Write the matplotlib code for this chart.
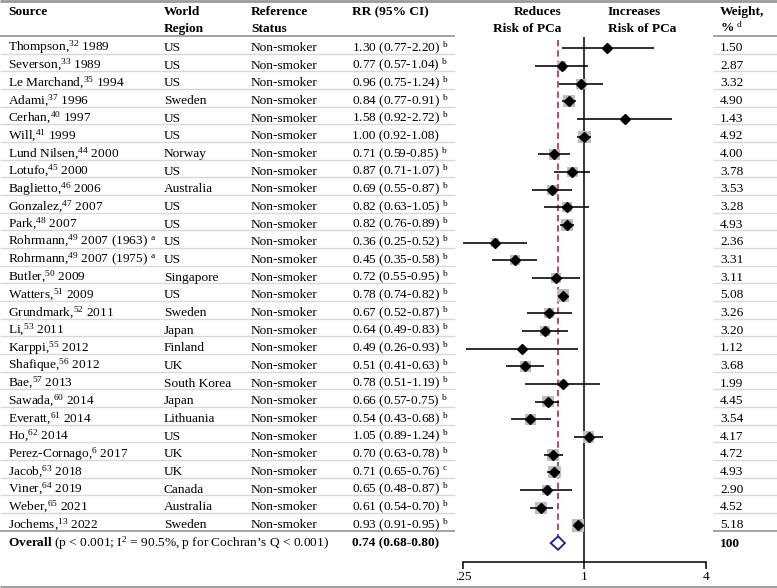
import numpy as np
import matplotlib
matplotlib.use("Agg")
import matplotlib.pyplot as plt

plt.rcParams['font.family'] = ['Liberation Serif', 'DejaVu Serif']
plt.rcParams['mathtext.fontset'] = 'custom'
plt.rcParams['mathtext.rm'] = 'Liberation Serif'
plt.rcParams['mathtext.it'] = 'Liberation Serif:italic'
plt.rcParams['mathtext.bf'] = 'Liberation Serif:bold'

# ---------------- data ----------------
sources = ["Thompson", "Severson", "Le Marchand", "Adami", "Cerhan", "Will", "Lund Nilsen",
           "Lotufo", "Baglietto", "Gonzalez", "Park", "Rohrmann", "Rohrmann", "Butler",
           "Watters", "Grundmark", "Li", "Karppi", "Shafique", "Bae", "Sawada", "Everatt",
           "Ho", "Perez-Cornago", "Jacob", "Viner", "Weber", "Jochems"]
refs = ["32", "33", "35", "37", "40", "41", "44", "45", "46", "47", "48", "49", "49", "50",
        "51", "52", "53", "55", "56", "57", "60", "61", "62", "6", "63", "64", "65", "13"]
years = ["1989", "1989", "1994", "1996", "1997", "1999", "2000", "2000", "2006", "2007",
         "2007", "2007 (1963)", "2007 (1975)", "2009", "2009", "2011", "2011", "2012",
         "2012", "2013", "2014", "2014", "2014", "2017", "2018", "2019", "2021", "2022"]
source_notes = [""] * 11 + ["a", "a"] + [""] * 15
regions = ["US", "US", "US", "Sweden", "US", "US", "Norway", "US", "Australia", "US", "US",
           "US", "US", "Singapore", "US", "Sweden", "Japan", "Finland", "UK", "South Korea",
           "Japan", "Lithuania", "US", "UK", "UK", "Canada", "Australia", "Sweden"]
ref_status = ["Non-smoker"] * 28
rr = [1.30, 0.77, 0.96, 0.84, 1.58, 1.00, 0.71, 0.87, 0.69, 0.82, 0.82, 0.36, 0.45, 0.72,
      0.78, 0.67, 0.64, 0.49, 0.51, 0.78, 0.66, 0.54, 1.05, 0.70, 0.71, 0.65, 0.61, 0.93]
ci_lo = [0.77, 0.57, 0.75, 0.77, 0.92, 0.92, 0.59, 0.71, 0.55, 0.63, 0.76, 0.25, 0.35, 0.55,
         0.74, 0.52, 0.49, 0.26, 0.41, 0.51, 0.57, 0.43, 0.89, 0.63, 0.65, 0.48, 0.54, 0.91]
ci_hi = [2.20, 1.04, 1.24, 0.91, 2.72, 1.08, 0.85, 1.07, 0.87, 1.05, 0.89, 0.52, 0.58, 0.95,
         0.82, 0.87, 0.83, 0.93, 0.63, 1.19, 0.75, 0.68, 1.24, 0.78, 0.76, 0.87, 0.70, 0.95]
rr_notes = ["b"] * 5 + [""] + ["b"] * 18 + ["c"] + ["b"] * 3
weights = [1.50, 2.87, 3.32, 4.90, 1.43, 4.92, 4.00, 3.78, 3.53, 3.28, 4.93, 2.36, 3.31, 3.11,
           5.08, 3.26, 3.20, 1.12, 3.68, 1.99, 4.45, 3.54, 4.17, 4.72, 4.93, 2.90, 4.52, 5.18]
overall_rr, overall_lo, overall_hi = 0.74, 0.68, 0.80
overall_stats = "(p < 0.001; I$^{\\mathrm{2}}$ = 90.5%, p for Cochran\u2019s Q < 0.001)"
xticks = [0.25, 1, 4]
xticklabels = [".25", "1", "4"]

# ---------------- layout ----------------
W, Hfig = 777, 588
fig = plt.figure(figsize=(W / 100, Hfig / 100), dpi=100)
bg = fig.add_axes([0, 0, 1, 1])
bg.set_xlim(0, W)
bg.set_ylim(Hfig, 0)
bg.axis('off')

ROW0, RH = 48.3, 17.67
n = len(sources)
FS = 9.6
TXT_OFF = 2.7


def yrow(i):
    return ROW0 + i * RH


X_SRC, X_REG, X_STAT, X_RR, X_W = 8, 164, 251, 352, 720
SEG = [(0, 455), (713, W)]

# lines
bg.hlines(1, 0, W, color='#9a9a9a', lw=2)
bg.hlines(586.5, 0, W, color='#9a9a9a', lw=2)
for a, b in SEG:
    bg.hlines(35.7, a, b, color='#8a8a8a', lw=1.1)
    for i in range(n - 1):
        bg.hlines(yrow(i) + 5.2, a, b, color='#d8d8d8', lw=1.0)
    bg.hlines(yrow(n - 1) + 5.2, a, b, color='#8a8a8a', lw=1.1)

# header
hb1, hb2 = 15, 32
bg.text(X_SRC, hb1, "Source", fontsize=FS, fontweight='bold', va='baseline')
bg.text(X_REG, hb1, "World", fontsize=FS, fontweight='bold', va='baseline')
bg.text(X_REG, hb2, "Region", fontsize=FS, fontweight='bold', va='baseline')
bg.text(X_STAT, hb1, "Reference", fontsize=FS, fontweight='bold', va='baseline')
bg.text(X_STAT, hb2, "Status", fontsize=FS, fontweight='bold', va='baseline')
bg.text(X_RR, hb1, "RR (95% CI)", fontsize=FS, fontweight='bold', va='baseline')
bg.text(561, hb1, "Reduces", fontsize=FS, fontweight='bold', va='baseline', ha='right')
bg.text(561, hb2, "Risk of PCa", fontsize=FS, fontweight='bold', va='baseline', ha='right')
bg.text(608, hb1, "Increases", fontsize=FS, fontweight='bold', va='baseline')
bg.text(608, hb2, "Risk of PCa", fontsize=FS, fontweight='bold', va='baseline')
bg.text(X_W, hb1, "Weight,", fontsize=FS, fontweight='bold', va='baseline')
bg.text(X_W, hb2, "% $^{\\mathrm{d}}$", fontsize=FS, fontweight='bold', va='baseline')

# rows
for i in range(n):
    yb = yrow(i) + TXT_OFF
    src = f"{sources[i]},$^{{\\mathrm{{{refs[i]}}}}}$ {years[i]}"
    if source_notes[i]:
        src += f" $^{{\\mathrm{{{source_notes[i]}}}}}$"
    bg.text(X_SRC, yb, src, fontsize=FS, va='baseline')
    bg.text(X_REG, yb, regions[i], fontsize=FS, va='baseline')
    bg.text(X_STAT, yb, ref_status[i], fontsize=FS, va='baseline')
    rtxt = f"{rr[i]:.2f} ({ci_lo[i]:.2f}-{ci_hi[i]:.2f})"
    if rr_notes[i]:
        rtxt += f" $^{{\\mathrm{{{rr_notes[i]}}}}}$"
    bg.text(X_RR, yb, rtxt, fontsize=FS, va='baseline')
    bg.text(X_W, yb, f"{weights[i]:.2f}", fontsize=FS, va='baseline')

# overall row
yb = yrow(n) + TXT_OFF + 0.8
bg.text(X_SRC, yb, "$\\mathbf{Overall}$ " + overall_stats, fontsize=FS, va='baseline')
bg.text(X_RR, yb, f"{overall_rr:.2f} ({overall_lo:.2f}-{overall_hi:.2f})", fontsize=FS,
        fontweight='bold', va='baseline')
bg.text(X_W, yb, f"{sum(weights):.0f}", fontsize=FS, fontweight='bold', va='baseline')

# ---------------- forest axes ----------------
AX_L, AX_R, AX_TOP, AX_BOT = 463, 706, 37, 561.5
ax = fig.add_axes([AX_L / W, (Hfig - AX_BOT) / Hfig, (AX_R - AX_L) / W, (AX_BOT - AX_TOP) / Hfig])
ax.set_facecolor('none')
ax.set_xscale('log', base=2)
ax.set_xlim(0.25, 4)
ax.set_ylim((AX_BOT - ROW0) / RH, (AX_TOP - ROW0) / RH)
for s in ['top', 'left', 'right']:
    ax.spines[s].set_visible(False)
ax.spines['bottom'].set_linewidth(1.1)
ax.set_yticks([])
ax.set_xticks(xticks)
ax.set_xticklabels(xticklabels, fontsize=FS)
ax.minorticks_off()
ax.tick_params(axis='x', direction='out', length=5, width=1.1, pad=2)

idx = np.arange(n)
ax.axvline(1, color='black', lw=1.1, zorder=1)
ax.vlines(overall_rr, -0.45, n + 0.4, color='#b83c5a', linestyles=(0, (3.5, 2.2)), lw=1.3, zorder=1)

wmax = max(weights)
side_px = 12.5 * np.sqrt(np.array(weights) / wmax)
ax.scatter(rr, idx, marker='s', s=(side_px * 0.72) ** 2, color='#bdbdbd', edgecolors='none', zorder=2)
ax.hlines(idx, ci_lo, ci_hi, color='black', lw=1.15, zorder=3, clip_on=False)
ax.plot(rr, idx, 'D', ms=4.6, color='black', zorder=4, clip_on=False)

dh = 0.38
ax.fill([overall_lo, overall_rr, overall_hi, overall_rr], [n, n - dh, n, n + dh],
        facecolor='white', edgecolor='#1c1f8c', lw=1.3, zorder=5)

fig.savefig("out.png", dpi=100)
